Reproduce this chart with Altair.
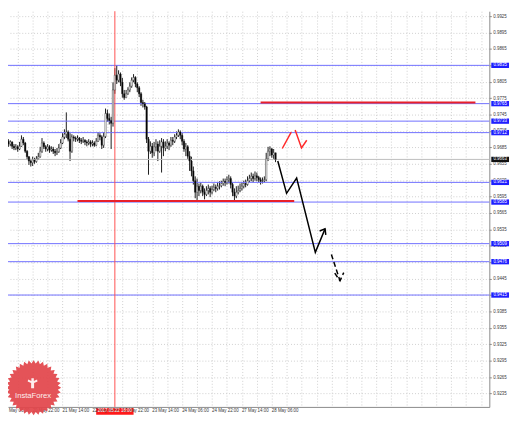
import altair as alt
import pandas as pd
import numpy as np

# ---------------- data ----------------
bar_index = list(range(1, 147))
first_open = 0.9700
close = [0.9702, 0.9696, 0.9691, 0.9695, 0.9687, 0.9684, 0.9686, 0.9682, 0.9687, 0.9700,
         0.9693, 0.9678, 0.9668, 0.9660, 0.9657, 0.9662, 0.9659, 0.9664, 0.9668, 0.9678,
         0.9693, 0.9686, 0.9682, 0.9686, 0.9680, 0.9682, 0.9678, 0.9675, 0.9677, 0.9684,
         0.9693, 0.9704, 0.9709, 0.9713, 0.9700, 0.9678, 0.9704, 0.9702, 0.9700, 0.9702,
         0.9698, 0.9696, 0.9698, 0.9695, 0.9693, 0.9695, 0.9691, 0.9693, 0.9689, 0.9696,
         0.9707, 0.9704, 0.9689, 0.9705, 0.9747, 0.9738, 0.9734, 0.9729, 0.9790, 0.9817,
         0.9808, 0.9819, 0.9804, 0.9783, 0.9776, 0.9783, 0.9790, 0.9797, 0.9808, 0.9813,
         0.9801, 0.9794, 0.9783, 0.9767, 0.9765, 0.9759, 0.9700, 0.9678, 0.9687, 0.9675,
         0.9686, 0.9691, 0.9678, 0.9687, 0.9695, 0.9684, 0.9687, 0.9693, 0.9689, 0.9698,
         0.9696, 0.9704, 0.9707, 0.9713, 0.9707, 0.9696, 0.9682, 0.9686, 0.9669, 0.9660,
         0.9642, 0.9624, 0.9603, 0.9614, 0.9606, 0.9614, 0.9603, 0.9599, 0.9606, 0.9610,
         0.9603, 0.9608, 0.9612, 0.9610, 0.9614, 0.9615, 0.9619, 0.9623, 0.9621, 0.9626,
         0.9628, 0.9617, 0.9603, 0.9596, 0.9603, 0.9606, 0.9610, 0.9614, 0.9619, 0.9617,
         0.9624, 0.9628, 0.9632, 0.9628, 0.9633, 0.9630, 0.9626, 0.9623, 0.9624, 0.9626,
         0.9664, 0.9678, 0.9682, 0.9671, 0.9675, 0.9663]
high = [0.9709, 0.9707, 0.9700, 0.9698, 0.9696, 0.9691, 0.9691, 0.9689, 0.9695, 0.9707,
        0.9704, 0.9695, 0.9680, 0.9669, 0.9664, 0.9668, 0.9666, 0.9669, 0.9675, 0.9686,
        0.9702, 0.9696, 0.9689, 0.9691, 0.9689, 0.9687, 0.9686, 0.9682, 0.9684, 0.9691,
        0.9700, 0.9711, 0.9718, 0.9749, 0.9716, 0.9711, 0.9709, 0.9707, 0.9705, 0.9707,
        0.9704, 0.9702, 0.9704, 0.9700, 0.9698, 0.9700, 0.9698, 0.9698, 0.9696, 0.9702,
        0.9713, 0.9711, 0.9707, 0.9713, 0.9756, 0.9754, 0.9747, 0.9741, 0.9804, 0.9830,
        0.9835, 0.9826, 0.9822, 0.9812, 0.9790, 0.9790, 0.9795, 0.9804, 0.9813, 0.9819,
        0.9815, 0.9804, 0.9797, 0.9786, 0.9772, 0.9768, 0.9761, 0.9704, 0.9696, 0.9693,
        0.9695, 0.9700, 0.9696, 0.9698, 0.9702, 0.9700, 0.9696, 0.9700, 0.9696, 0.9704,
        0.9704, 0.9709, 0.9714, 0.9718, 0.9716, 0.9711, 0.9700, 0.9693, 0.9689, 0.9678,
        0.9668, 0.9650, 0.9632, 0.9628, 0.9619, 0.9621, 0.9617, 0.9610, 0.9614, 0.9617,
        0.9614, 0.9615, 0.9619, 0.9617, 0.9621, 0.9623, 0.9624, 0.9628, 0.9628, 0.9632,
        0.9635, 0.9632, 0.9621, 0.9610, 0.9614, 0.9615, 0.9619, 0.9621, 0.9624, 0.9626,
        0.9632, 0.9635, 0.9639, 0.9637, 0.9641, 0.9639, 0.9633, 0.9630, 0.9630, 0.9632,
        0.9675, 0.9686, 0.9687, 0.9684, 0.9682, 0.9673]
low = [0.9696, 0.9691, 0.9686, 0.9687, 0.9682, 0.9680, 0.9680, 0.9677, 0.9680, 0.9686,
       0.9689, 0.9675, 0.9662, 0.9653, 0.9650, 0.9651, 0.9655, 0.9657, 0.9662, 0.9666,
       0.9675, 0.9682, 0.9677, 0.9678, 0.9675, 0.9677, 0.9673, 0.9669, 0.9671, 0.9675,
       0.9682, 0.9691, 0.9700, 0.9702, 0.9696, 0.9660, 0.9675, 0.9696, 0.9695, 0.9696,
       0.9693, 0.9691, 0.9693, 0.9689, 0.9687, 0.9689, 0.9686, 0.9687, 0.9686, 0.9687,
       0.9695, 0.9698, 0.9682, 0.9684, 0.9702, 0.9732, 0.9727, 0.9682, 0.9723, 0.9783,
       0.9801, 0.9804, 0.9797, 0.9776, 0.9772, 0.9776, 0.9781, 0.9786, 0.9794, 0.9804,
       0.9795, 0.9786, 0.9777, 0.9761, 0.9758, 0.9754, 0.9693, 0.9635, 0.9673, 0.9666,
       0.9669, 0.9678, 0.9660, 0.9675, 0.9639, 0.9669, 0.9678, 0.9682, 0.9680, 0.9686,
       0.9689, 0.9693, 0.9700, 0.9704, 0.9700, 0.9689, 0.9677, 0.9669, 0.9664, 0.9642,
       0.9632, 0.9617, 0.9592, 0.9588, 0.9596, 0.9601, 0.9596, 0.9590, 0.9596, 0.9599,
       0.9594, 0.9599, 0.9605, 0.9603, 0.9606, 0.9608, 0.9612, 0.9615, 0.9614, 0.9617,
       0.9619, 0.9610, 0.9596, 0.9588, 0.9592, 0.9599, 0.9603, 0.9606, 0.9610, 0.9612,
       0.9615, 0.9621, 0.9623, 0.9621, 0.9624, 0.9623, 0.9621, 0.9617, 0.9619, 0.9621,
       0.9623, 0.9660, 0.9669, 0.9666, 0.9664, 0.9658]

price_ticks = [0.9205, 0.9235, 0.9265, 0.9295, 0.9325, 0.9355, 0.9385, 0.9415, 0.9445,
               0.9475, 0.9505, 0.9535, 0.9565, 0.9595, 0.9625, 0.9655, 0.9685, 0.9715,
               0.9745, 0.9775, 0.9805, 0.9835, 0.9865, 0.9895, 0.9925]
grid_bars = [8, 16, 24, 32, 40, 48, 56, 64, 72, 80, 88, 96, 104, 112, 120, 128, 136,
             144, 152, 160, 168, 176, 184, 192, 200, 208, 216, 224, 232, 240, 248, 256]
time_label_bars = [0, 16, 32, 48, 64, 80, 96, 112, 128, 144]
time_labels = ["20 May 06:00", "20 May 22:00", "21 May 14:00", "22 May 06:00",
               "22 May 22:00", "23 May 14:00", "24 May 06:00", "24 May 22:00",
               "27 May 14:00", "28 May 06:00"]

level_prices = [0.9835, 0.9765, 0.9733, 0.9712, 0.9621, 0.9585, 0.9509, 0.9476, 0.9415]
level_labels = ["0.9835", "0.9765", "0.9733", "0.9712", "0.9621", "0.9585", "0.9509",
                "0.9476", "0.9415"]
current_price = 0.9663
current_label = "0.9663"

marker_bar = 60
marker_label = "2017.05.22 18:00"

support_bars = [40, 156]
support_price = 0.9587
resist_bars = [138, 253]
resist_price = 0.9767

path_bars = [147.2, 151.9, 157.3, 167.3, 172.5]
path_prices = [0.9660, 0.9601, 0.9629, 0.9493, 0.9536]
path_head_bars = [169.6, 172.5, 172.9]
path_head_prices = [0.9532, 0.9536, 0.9525]
dash_bars = [175.9, 180.5]
dash_prices = [0.9489, 0.9441]
dash_head_bars = [177.7, 180.5, 182.5]
dash_head_prices = [0.9455, 0.9441, 0.9456]
red_up_bars = [149.6, 154.4]
red_up_prices = [0.9683, 0.9713]
red_down_bars = [156.5, 159.9, 162.7]
red_down_prices = [0.9717, 0.9684, 0.9698]

# ---------------- tables ----------------
opens = [first_open] + close[:-1]
candles = pd.DataFrame({"bar": bar_index, "open": opens, "high": high, "low": low, "close": close})
candles["top"] = candles[["open", "high", "close"]].max(axis=1)
candles["bottom"] = candles[["open", "low", "close"]].min(axis=1)
candles["rising"] = candles["close"] >= candles["open"]


def seg_table(pieces):
    rows = []
    for name, bs, ps in pieces:
        for i, (b, p) in enumerate(zip(bs, ps)):
            rows.append({"seg": name, "i": i, "bar": b, "price": p})
    return pd.DataFrame(rows)


solid_df = seg_table([("main", path_bars, path_prices), ("head", path_head_bars, path_head_prices)])
dash_df = seg_table([("main", dash_bars, dash_prices), ("head", dash_head_bars, dash_head_prices)])
red_df = seg_table([("up", red_up_bars, red_up_prices), ("down", red_down_bars, red_down_prices)])
hline_df = seg_table([("support", support_bars, [support_price] * 2),
                      ("resist", resist_bars, [resist_price] * 2)])

levels_df = pd.DataFrame({"price": level_prices, "label": level_labels})
current_df = pd.DataFrame({"price": [current_price], "label": [current_label]})
time_df = pd.DataFrame({"bar": time_label_bars, "label": time_labels})
marker_df = pd.DataFrame({"bar": [marker_bar], "label": [marker_label]})
logo_df = pd.DataFrame({"name": ["InstaForex"]})

# ---------------- scales / axes ----------------
W, H = 489, 402
X = alt.Scale(domain=[5.43, 257.8], nice=False, zero=False)
Y = alt.Scale(domain=[0.92104, 0.9934], nice=False, zero=False)
GRID = "#cfcfcf"
FONT = "Liberation Sans"
LAB = 4.5

x_axis = alt.Axis(values=grid_bars, grid=True, gridColor=GRID, gridDash=[1, 2], labels=False,
                  ticks=False, domain=True, domainColor="#8a8a8a", title=None)
y_axis = alt.Axis(orient="right", values=price_ticks, format=".4f", grid=True, gridColor=GRID,
                  gridDash=[1, 2], labelFont=FONT, labelFontSize=LAB, labelColor="#3a3a3a",
                  labelPadding=1.5, tickSize=2, tickColor="#8a8a8a", domainColor="#8a8a8a",
                  title=None)


def xq(field="bar"):
    return alt.X(f"{field}:Q", scale=X, axis=x_axis)


def yq(field="price"):
    return alt.Y(f"{field}:Q", scale=Y, axis=y_axis)


# ---------------- layers ----------------
wick = alt.Chart(candles).mark_rule(color="#1c1c1c", strokeWidth=1, clip=True).encode(
    x=xq(), y=yq("bottom"), y2="top:Q",
)
body = alt.Chart(candles).mark_bar(size=1.5, stroke="#1c1c1c", strokeWidth=0.4, clip=True).encode(
    x=xq(), y=yq("open"), y2="close:Q",
    fill=alt.condition("datum.rising", alt.value("#ffffff"), alt.value("#000000")),
)

current_line = alt.Chart(current_df).mark_rule(color="#bdbdbd", strokeWidth=1).encode(y=yq())
level_lines = alt.Chart(levels_df).mark_rule(color="#6f6fff", strokeWidth=1).encode(y=yq())
marker_line = alt.Chart(marker_df).mark_rule(color="#ff5050", strokeWidth=1).encode(x=xq())
red_levels = alt.Chart(hline_df).mark_line(color="#e8202a", strokeWidth=2).encode(
    x=xq(), y=yq(), detail="seg:N", order="i:Q")

solid_arrow = alt.Chart(solid_df).mark_line(color="#000000", strokeWidth=1.5).encode(
    x=xq(), y=yq(), detail="seg:N", order="i:Q")
dash_arrow = alt.Chart(dash_df).mark_line(color="#000000", strokeWidth=1.5, strokeDash=[5, 3]).encode(
    x=xq(), y=yq(), detail="seg:N", order="i:Q")
red_arrow = alt.Chart(red_df).mark_line(color="#ff2a2a", strokeWidth=1.5).encode(
    x=xq(), y=yq(), detail="seg:N", order="i:Q")

BOX_RIGHT = "M -1 -0.3 L 1 -0.3 L 1 0.3 L -1 0.3 Z"
level_box = alt.Chart(levels_df).mark_point(shape=BOX_RIGHT, size=324, filled=True, opacity=1,
                                            color="#1f1fff").encode(x=alt.value(500), y=yq())
level_text = alt.Chart(levels_df).mark_text(font=FONT, fontSize=LAB, color="#ffffff").encode(
    x=alt.value(500), y=yq(), text="label:N")
cur_box = alt.Chart(current_df).mark_point(shape=BOX_RIGHT, size=324, filled=True, opacity=1,
                                           color="#111111").encode(x=alt.value(500), y=yq())
cur_text = alt.Chart(current_df).mark_text(font=FONT, fontSize=LAB, color="#ffffff").encode(
    x=alt.value(500), y=yq(), text="label:N")

LABEL_Y = H + 4.5
time_text = alt.Chart(time_df).mark_text(font=FONT, fontSize=LAB, color="#3a3a3a", align="left",
                                         baseline="middle").encode(
    x=xq(), y=alt.value(LABEL_Y), text="label:N")
BOX_DATE = "M -1 -0.18 L 1 -0.18 L 1 0.18 L -1 0.18 Z"
marker_box = alt.Chart(marker_df).mark_point(shape=BOX_DATE, size=1444, filled=True, opacity=1,
                                             color="#ff1a1a").encode(x=xq(), y=alt.value(LABEL_Y))
marker_text = alt.Chart(marker_df).mark_text(font=FONT, fontSize=LAB, color="#ffffff",
                                             baseline="middle").encode(
    x=xq(), y=alt.value(LABEL_Y), text="label:N")

teeth = 36
pts = []
for k in range(2 * teeth):
    r = 1.0 if k % 2 == 0 else 0.88
    a = np.pi * k / teeth
    pts.append(f"{r * np.sin(a):.3f} {-r * np.cos(a):.3f}")
SEAL = "M " + " L ".join(pts) + " Z"
ICON = ("M -0.25 -1 L 0.25 -1 L 0.25 -0.45 L 0.9 -0.75 L 1 -0.35 L 0.3 -0.05 L 0.3 1 "
        "L -0.3 1 L -0.3 -0.05 L -1 -0.35 L -0.9 -0.75 L -0.25 -0.45 Z")

seal = alt.Chart(logo_df).mark_point(shape=SEAL, size=3136, filled=True, opacity=0.92,
                                     color="#e2444a").encode(x=alt.value(26), y=alt.value(382.5))
icon = alt.Chart(logo_df).mark_point(shape=ICON, size=100, filled=True, opacity=0.9,
                                     color="#ffffff").encode(x=alt.value(25), y=alt.value(378))
logo_text = alt.Chart(logo_df).mark_text(font=FONT, fontSize=7.8, color="#ffffff", opacity=0.9).encode(
    x=alt.value(25.5), y=alt.value(391), text="name:N")

chart = alt.layer(
    wick, current_line, level_lines, marker_line, body,
    red_levels, solid_arrow, dash_arrow, red_arrow,
    level_box, level_text, cur_box, cur_text,
    marker_box, time_text, marker_text,
    seal, icon, logo_text,
).properties(
    width=W, height=H,
    padding={"left": 0, "top": 0, "right": 21, "bottom": 9},
    autosize=alt.AutoSizeParams(type="none"),
).configure_view(stroke=None)

chart.save("out.html", embed_options={"renderer": "svg", "actions": False})
